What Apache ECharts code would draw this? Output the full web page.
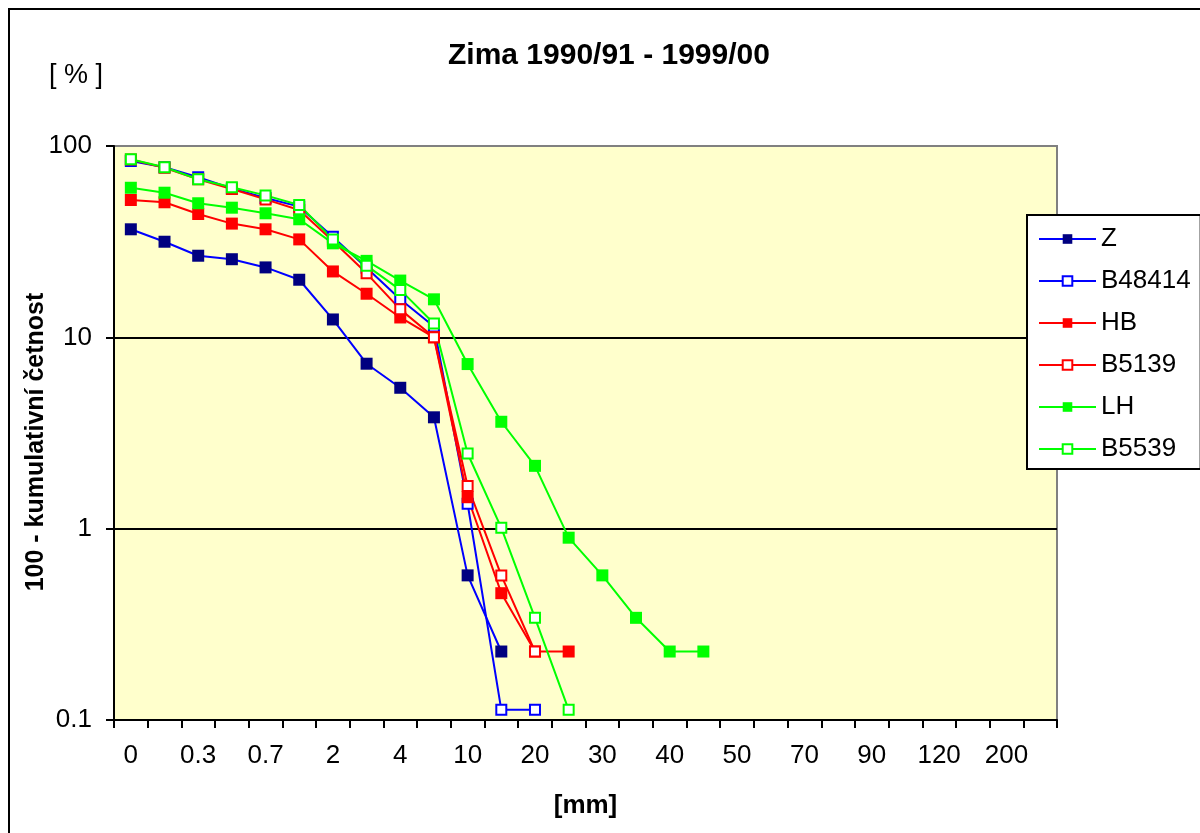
<!DOCTYPE html>
<html>
<head>
<meta charset="utf-8">
<script src="https://cdn.jsdelivr.net/npm/echarts@6/dist/echarts.min.js"></script>
<style>
html,body{margin:0;padding:0;background:#fff;}
#main{width:1200px;height:833px;}
</style>
</head>
<body>
<div id="main"></div>
<script>
const categories = ['0','0.1','0.3','0.5','0.7','1','2','3','4','5','10','15','20','25','30','35','40','45','50','60','70','80','90','100','120','150','200','300'];
const seriesNames = ['Z','B48414','HB','B5139','LH','B5539'];
const zValues      = [36.7, 31.6, 26.7, 25.6, 23.2, 20.0, 12.4, 7.28, 5.45, 3.82, 0.57, 0.228];
const b48414Values = [83.5, 77.5, 68.6, 60.0, 53.5, 48.2, 33.5, 23.1, 15.8, 11.4, 1.35, 0.113, 0.113];
const hbValues     = [52.2, 50.8, 44.1, 39.3, 36.7, 32.5, 22.1, 16.9, 12.7, 10.0, 1.46, 0.46, 0.228, 0.228];
const b5139Values  = [85.0, 77.0, 67.0, 59.6, 52.6, 46.3, 31.9, 21.6, 14.0, 10.0, 1.67, 0.57, 0.228];
const lhValues     = [60.5, 57.0, 50.2, 47.6, 44.5, 41.4, 31.0, 25.1, 19.8, 15.8, 7.25, 3.62, 2.13, 0.897, 0.57, 0.342, 0.228, 0.228];
const b5539Values  = [85.2, 77.4, 67.0, 60.8, 55.2, 49.2, 32.5, 23.7, 17.7, 11.8, 2.47, 1.01, 0.342, 0.113];

const FONT = 'Liberation Sans, Arial, sans-serif';

function mk(name, data, lineColor, markerColor, open) {
  return {
    name: name,
    type: 'line',
    data: data,
    symbol: 'rect',
    symbolSize: open ? 10 : 12,
    showAllSymbol: true,
    animation: false,
    lineStyle: { color: lineColor, width: 2 },
    itemStyle: open
      ? { color: '#FFFFFF', borderColor: lineColor, borderWidth: 2 }
      : { color: markerColor, borderWidth: 0 }
  };
}

const chart = echarts.init(document.getElementById('main'), null, { renderer: 'canvas' });
chart.setOption({
  animation: false,
  backgroundColor: '#FFFFFF',
  textStyle: { fontFamily: FONT },
  title: {
    text: 'Zima 1990/91 - 1999/00',
    left: 448,
    top: 41,
    padding: 0,
    textStyle: { fontFamily: FONT, fontSize: 30, fontWeight: 'bold', color: '#000' }
  },
  graphic: [
    { type: 'rect', silent: true, shape: { x: 9, y: 9, width: 1400, height: 1000 },
      style: { fill: 'none', stroke: '#000', lineWidth: 2 } },
    { type: 'text', left: 49, top: 62, silent: true,
      style: { text: '[ % ]', fontFamily: FONT, fontSize: 27, fill: '#000' } },
    { type: 'text', silent: true, x: 36, y: 442, rotation: Math.PI / 2,
      style: { text: '100 - kumulativní četnost', fontFamily: FONT, fontSize: 25, fontWeight: 'bold',
               fill: '#000', align: 'center', verticalAlign: 'middle' } }
  ],
  legend: {
    orient: 'vertical',
    left: 1027,
    top: 215,
    padding: [9, 10, 5, 11],
    itemWidth: 57,
    itemHeight: 12,
    itemGap: 12,
    borderColor: '#000',
    borderWidth: 2,
    backgroundColor: '#FFFFFF',
    textStyle: { fontFamily: FONT, fontSize: 26, color: '#000', lineHeight: 30 },
    data: seriesNames
  },
  grid: {
    left: 114, right: 143, top: 146, bottom: 113,
    show: true,
    backgroundColor: '#FFFFCC',
    borderColor: '#808080',
    borderWidth: 2
  },
  xAxis: {
    type: 'category',
    data: categories,
    boundaryGap: true,
    name: '[mm]',
    nameLocation: 'middle',
    nameGap: 73,
    nameTextStyle: { fontFamily: FONT, fontSize: 26, fontWeight: 'bold', color: '#000' },
    axisLine: { show: true, onZero: false, lineStyle: { color: '#000', width: 2 } },
    axisTick: { show: true, interval: 0, length: 8, inside: false, lineStyle: { color: '#000', width: 2 } },
    axisLabel: { interval: 1, margin: 23, fontFamily: FONT, fontSize: 26, color: '#000' },
    splitLine: { show: false }
  },
  yAxis: {
    type: 'log',
    logBase: 10,
    min: 0.1,
    max: 100,
    axisLine: { show: true, lineStyle: { color: '#000', width: 2 } },
    axisTick: { show: true, length: 8, lineStyle: { color: '#000', width: 2 } },
    axisLabel: {
      margin: 22, fontFamily: FONT, fontSize: 26, color: '#000',
      formatter: function (v) { return String(+v.toPrecision(3)); }
    },
    splitLine: { show: true, showMinLine: false, showMaxLine: false, lineStyle: { color: '#000', width: 2 } }
  },
  series: [
    mk('Z', zValues, '#0000FF', '#000080', false),
    mk('B48414', b48414Values, '#0000FF', '#0000FF', true),
    mk('HB', hbValues, '#FF0000', '#FF0000', false),
    mk('B5139', b5139Values, '#FF0000', '#FF0000', true),
    mk('LH', lhValues, '#00FF00', '#00FF00', false),
    mk('B5539', b5539Values, '#00FF00', '#00FF00', true)
  ]
});
</script>
</body>
</html>
